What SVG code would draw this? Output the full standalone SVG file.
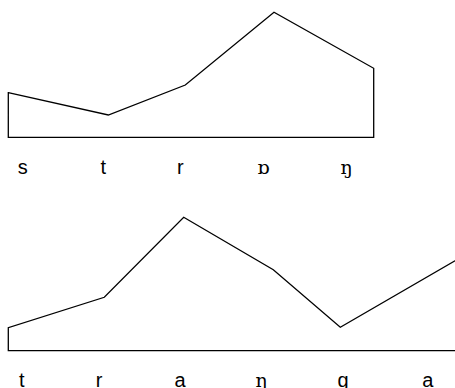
<svg xmlns="http://www.w3.org/2000/svg" width="455" height="388" viewBox="0 0 455 388">
<style>
.c{fill:none;stroke:#000;stroke-width:1.3;stroke-linejoin:miter}
.l{font-family:"Liberation Sans",Arial,sans-serif;font-size:20px;fill:#000;text-anchor:middle}
.s{font-family:"DejaVu Serif","Liberation Serif",serif;font-size:19px;fill:#000;text-anchor:middle}
</style>
<rect width="455" height="388" fill="#fff"/>
<g id="connectors">
<polygon class="c" points="8.3,92.7 108.3,115 185.3,85 274,12.3 373.7,68.3 373.7,137.3 8.3,137.3"/>
<polyline class="c" points="470,250 455,260.7 340.3,327.3 273.3,269.7 183.7,217.3 104.3,297.3 8.3,327.7 8.3,350.7 470,350.7"/>
</g>
<g id="top-labels">
<text class="l" x="22.7" y="173.5">s</text>
<text class="l" x="103.3" y="173.5">t</text>
<text class="l" x="180.3" y="173.5">r</text>
<text class="s" x="263.3" y="173.5">ɒ</text>
<text class="s" x="346.7" y="173.5">ŋ</text>
</g>
<g id="bottom-labels">
<text class="l" x="21.7" y="386.5">t</text>
<text class="l" x="99" y="386.5">r</text>
<text class="l" x="180" y="386.5">a</text>
<text class="s" x="261.7" y="386.5">ŋ</text>
<text class="l" x="343" y="386.5">g</text>
<text class="l" x="427.7" y="386.5">a</text>
</g>
</svg>
